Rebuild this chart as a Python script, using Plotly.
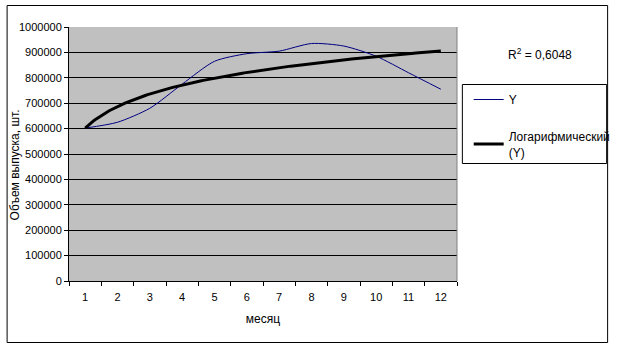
import numpy as np
import plotly.graph_objects as go

months = list(range(1, 13))
tick_labels = [str(m) for m in months]
y_values = [602000, 625000, 680000, 775000, 865000, 895000, 905000, 935000, 925000, 885000, 820000, 755000]
y_ticks = list(range(0, 1000001, 100000))
r2_text = "R<sup>2</sup> = 0,6048"
series_name = "Y"
trend_name = "Логарифмический<br>(Y)"

# logarithmic trendline (least squares fit of y = a*ln(x) + b)
lx = np.log(np.array(months, dtype=float))
a, b = np.polyfit(lx, np.array(y_values, dtype=float), 1)
tx = np.linspace(1, 12, 200)
ty = a * np.log(tx) + b

FONT = "Liberation Sans, Arial, sans-serif"
W, H = 628, 349
L, R, T, B = 69, 467, 27, 281

def px(x):
    return (x - L) / (R - L)

def py(y):
    return (B - y) / (B - T)

fig = go.Figure()
fig.add_trace(go.Scatter(x=months, y=y_values, mode="lines", name=series_name,
                         line=dict(color="#000080", width=1, shape="spline", smoothing=0.7),
                         legendgroup="a"))
fig.add_trace(go.Scatter(x=tx, y=ty, mode="lines", name=trend_name,
                         line=dict(color="#000000", width=3),
                         legendgroup="b"))

fig.update_layout(
    width=W, height=H,
    margin=dict(l=L, r=W - R, t=T, b=H - B),
    paper_bgcolor="white",
    plot_bgcolor="#C0C0C0",
    font=dict(family=FONT, size=11, color="black"),
    showlegend=True,
    legend=dict(x=px(479), y=py(85), xanchor="left", yanchor="top",
                bgcolor="rgba(0,0,0,0)", borderwidth=0,
                font=dict(family=FONT, size=12, color="black"),
                traceorder="grouped", tracegroupgap=18,
                itemwidth=30),
    xaxis=dict(range=[0.5, 12.5], tickmode="array", tickvals=months, ticktext=tick_labels,
               ticks="outside", ticklen=6, tickcolor="rgba(0,0,0,0)",
               showgrid=False, zeroline=False, showline=True, linecolor="black", linewidth=1,
               minor=dict(tickvals=[m + 0.5 for m in range(0, 13)], ticks="outside",
                          ticklen=4, tickcolor="black", showgrid=False),
               title=dict(text="месяц", font=dict(family=FONT, size=12), standoff=12),
               fixedrange=True),
    yaxis=dict(range=[0, 1000000], tickmode="array", tickvals=y_ticks,
               ticktext=[str(v) for v in y_ticks],
               ticks="outside", ticklen=4, tickcolor="black",
               showgrid=True, gridcolor="black", gridwidth=1,
               zeroline=False, showline=True, linecolor="black", linewidth=1,
               fixedrange=True),
)

shapes = [
    # plot-area right border
    dict(type="line", xref="paper", yref="paper", x0=1, x1=1, y0=0, y1=1,
         line=dict(color="#808080", width=1), layer="above"),
    # outer chart border
    dict(type="rect", xref="paper", yref="paper", x0=px(5.5), x1=px(621.5), y0=py(5.5), y1=py(342.5),
         line=dict(color="black", width=1), fillcolor="rgba(0,0,0,0)"),
    # legend box
    dict(type="rect", xref="paper", yref="paper", x0=px(472.5), x1=px(620.5), y0=py(84.5), y1=py(163.5),
         line=dict(color="black", width=1), fillcolor="rgba(0,0,0,0)"),
]
fig.update_layout(shapes=shapes)

fig.add_annotation(xref="paper", yref="paper", x=px(552), y=py(54), text=r2_text,
                   showarrow=False, font=dict(family=FONT, size=12, color="black"),
                   xanchor="center", yanchor="middle")
fig.add_annotation(xref="paper", yref="paper", x=px(14), y=py(165), text="Объем выпуска, шт.",
                   showarrow=False, textangle=-90, font=dict(family=FONT, size=12, color="black"),
                   xanchor="center", yanchor="middle")

fig.write_html("out.html", config={"displayModeBar": False})
